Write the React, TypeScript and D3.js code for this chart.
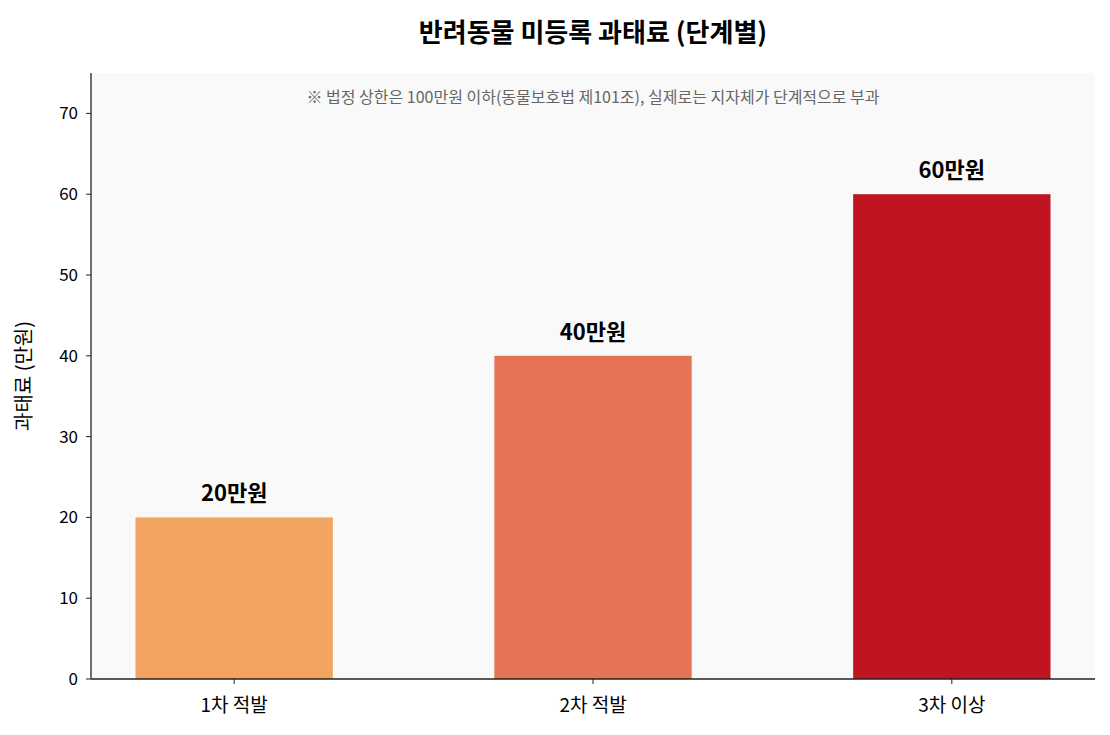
import { scaleBand, scaleLinear } from 'd3';

const width = 1110;
const height = 735;
const margin = { top: 73, right: 15, bottom: 56, left: 91 };

const categories = ['1차 적발', '2차 적발', '3차 이상'];
const fines = [20, 40, 60];
const barLabels = ['20만원', '40만원', '60만원'];
const colors = ['#F4A462', '#E67356', '#C01421'];
const yTicks = [0, 10, 20, 30, 40, 50, 60, 70];

const font = '"Noto Sans CJK KR", "Noto Sans", sans-serif';

const App = () => {
	const innerWidth = width - margin.left - margin.right;
	const innerHeight = height - margin.top - margin.bottom;

	const xScale = scaleBand<string>()
		.domain(categories)
		.range([0, innerWidth])
		.paddingInner(0.45)
		.paddingOuter(0.124);
	const yScale = scaleLinear().domain([0, 75]).range([innerHeight, 0]);

	return (
		<svg width={width} height={height} style={{ position: 'absolute', left: 0, top: 0, fontFamily: font }}>
			<rect width={width} height={height} fill="white" />
			<text x={width / 2 + 38} y={42} textAnchor="middle" fontSize={26} fontWeight="bold">
				반려동물 미등록 과태료 (단계별)
			</text>
			<g transform={`translate(${margin.left},${margin.top})`}>
				<rect width={innerWidth} height={innerHeight} fill="#F9F9F9" />
				<text x={innerWidth / 2} y={30} textAnchor="middle" fontSize={16} fill="#666">
					※ 법정 상한은 100만원 이하(동물보호법 제101조), 실제로는 지자체가 단계적으로 부과
				</text>
				{categories.map((c, i) => (
					<g key={c}>
						<rect
							x={xScale(c)}
							y={yScale(fines[i])}
							width={xScale.bandwidth()}
							height={innerHeight - yScale(fines[i])}
							fill={colors[i]}
						/>
						<text
							x={(xScale(c) as number) + xScale.bandwidth() / 2}
							y={yScale(fines[i]) - 16}
							textAnchor="middle"
							fontSize={22}
							fontWeight="bold"
						>
							{barLabels[i]}
						</text>
						<line
							x1={(xScale(c) as number) + xScale.bandwidth() / 2}
							x2={(xScale(c) as number) + xScale.bandwidth() / 2}
							y1={innerHeight}
							y2={innerHeight + 5}
							stroke="#222"
						/>
						<text
							x={(xScale(c) as number) + xScale.bandwidth() / 2}
							y={innerHeight + 33}
							textAnchor="middle"
							fontSize={19}
						>
							{c}
						</text>
					</g>
				))}
				{yTicks.map(t => (
					<g key={t} transform={`translate(0,${yScale(t)})`}>
						<line x1={-5} x2={0} stroke="#222" />
						<text x={-13} dy=".35em" textAnchor="end" fontSize={17}>
							{t}
						</text>
					</g>
				))}
				<line x1={0} x2={0} y1={0} y2={innerHeight} stroke="#222" strokeWidth={1.3} />
				<line x1={0} x2={innerWidth} y1={innerHeight} y2={innerHeight} stroke="#222" strokeWidth={1.3} />
				<text
					transform={`translate(${-60},${innerHeight / 2}) rotate(-90)`}
					textAnchor="middle"
					fontSize={20}
				>
					과태료 (만원)
				</text>
			</g>
		</svg>
	);
};

export default App;
